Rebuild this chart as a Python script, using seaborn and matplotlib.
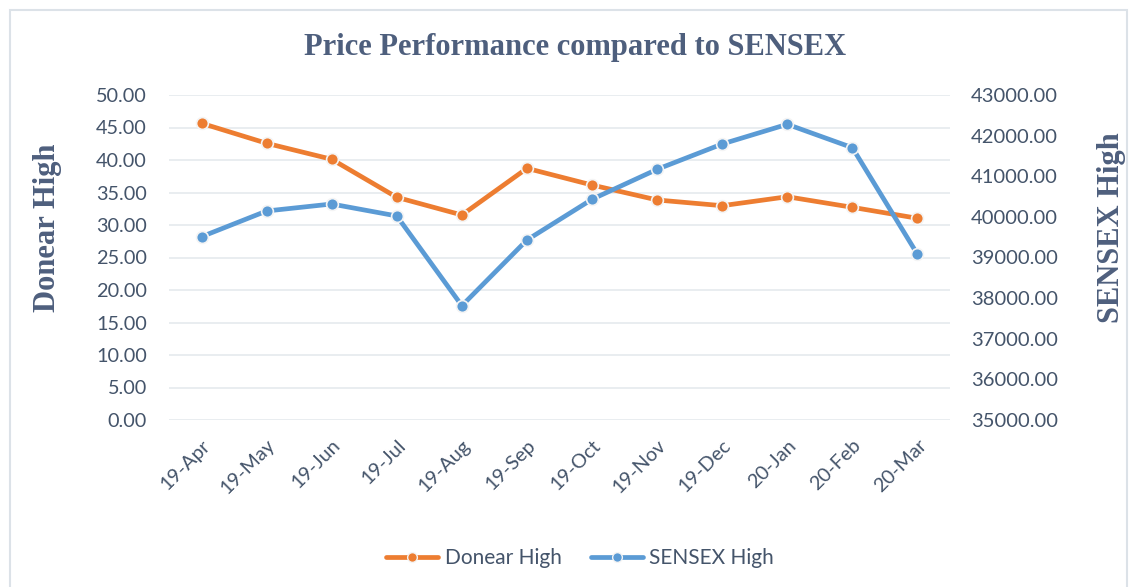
import numpy as np
import pandas as pd
import matplotlib
matplotlib.use("Agg")
import matplotlib.pyplot as plt
import matplotlib.transforms as mtransforms
import seaborn as sns
from matplotlib.lines import Line2D
from matplotlib.patches import Rectangle

# values
months = ["19-Apr", "19-May", "19-Jun", "19-Jul", "19-Aug", "19-Sep",
          "19-Oct", "19-Nov", "19-Dec", "20-Jan", "20-Feb", "20-Mar"]
donear_high = [45.65, 42.57, 40.11, 34.26, 31.54, 38.72,
               36.15, 33.85, 32.97, 34.35, 32.72, 31.03]
sensex_high = [39512, 40145, 40317, 40022, 37814, 39431,
               40433, 41171, 41794, 42279, 41703, 39079]
left_ticks = [0, 5, 10, 15, 20, 25, 30, 35, 40, 45, 50]
right_ticks = [35000, 36000, 37000, 38000, 39000, 40000, 41000, 42000, 43000]

df = pd.DataFrame({"month": months, "donear": donear_high, "sensex": sensex_high})
df["pos"] = np.arange(len(df))

sns.set_style("white")
plt.rcParams["font.family"] = ["Lato", "DejaVu Sans"]

ORANGE = "#ED7D31"
BLUE = "#5B9BD5"
TEXT = "#44546A"
TITLE = "#4E5F7D"
GRID = "#E3E8EC"

W, H = 1129, 587
fig = plt.figure(figsize=(W / 100, H / 100), dpi=100)
ax = fig.add_axes([169 / W, 1 - 420 / H, (950 - 169) / W, (420 - 95) / H])
ax2 = ax.twinx()

# chart frame
fig.patches.append(Rectangle((10 / W, -0.05), (1127 - 10) / W, 1.05 - 10 / H,
                             transform=fig.transFigure, fill=False,
                             edgecolor="#DCE2E8", linewidth=1.5))

line_kw = dict(linewidth=3.4, marker="o", markersize=8.5,
               markeredgecolor="#F4F4F4", markeredgewidth=1.2, legend=False)
sns.lineplot(data=df, x="pos", y="donear", color=ORANGE, ax=ax, zorder=3, **line_kw)
sns.lineplot(data=df, x="pos", y="sensex", color=BLUE, ax=ax2, zorder=3, **line_kw)

ax.set_xlim(-0.5, len(months) - 0.5)
ax.set_ylim(0, 50)
ax2.set_ylim(35000, 43000)
ax.set_yticks(left_ticks)
ax.set_yticklabels([f"{v:.2f}" for v in left_ticks])
ax2.set_yticks(right_ticks)
ax2.set_yticklabels([f"{v:.2f}" for v in right_ticks])
ax.set_xticks(df["pos"])
ax.set_xticklabels(months, rotation=45, ha="right", rotation_mode="anchor")
shift = mtransforms.ScaledTranslation(-5 / 100, 0, fig.dpi_scale_trans)
for lbl in ax.get_xticklabels():
    lbl.set_transform(lbl.get_transform() + shift)

ax.grid(axis="y", color=GRID, linewidth=1.1)
ax.set_axisbelow(True)
for a in (ax, ax2):
    for s in a.spines.values():
        s.set_visible(False)
    a.set_xlabel("")
    a.set_ylabel("")
ax.tick_params(axis="y", length=0, pad=16, labelsize=14.3, labelcolor=TEXT)
ax2.tick_params(axis="y", length=0, pad=15, labelsize=14.5, labelcolor=TEXT)
ax.tick_params(axis="x", length=0, pad=12, labelsize=14.3, labelcolor=TEXT)

serif = ["Liberation Serif", "DejaVu Serif"]
fig.text(575 / W, 1 - 47 / H, "Price Performance compared to SENSEX",
         ha="center", va="center", fontsize=22, fontweight="bold",
         family=serif, color=TITLE)
fig.text(48 / W, 1 - 228 / H, "Donear High", rotation=90, ha="center",
         va="center", fontsize=22, fontweight="bold", family=serif, color=TITLE)
fig.text(1112 / W, 1 - 228 / H, "SENSEX High", rotation=90, ha="center",
         va="center", fontsize=22, fontweight="bold", family=serif, color=TITLE)

handles = [Line2D([], [], color=ORANGE, linewidth=3.4, marker="o", markersize=7,
                  markeredgecolor="#F4F4F4"),
           Line2D([], [], color=BLUE, linewidth=3.4, marker="o", markersize=7,
                  markeredgecolor="#F4F4F4")]
fig.legend(handles, ["Donear High", "SENSEX High"], loc="center",
           bbox_to_anchor=(580 / W, 1 - 558 / H), ncol=2, frameon=False,
           fontsize=15, labelcolor=TEXT, handlelength=2.5, columnspacing=1.4,
           handletextpad=0.3)

fig.savefig("out.png", dpi=100, facecolor="white")
